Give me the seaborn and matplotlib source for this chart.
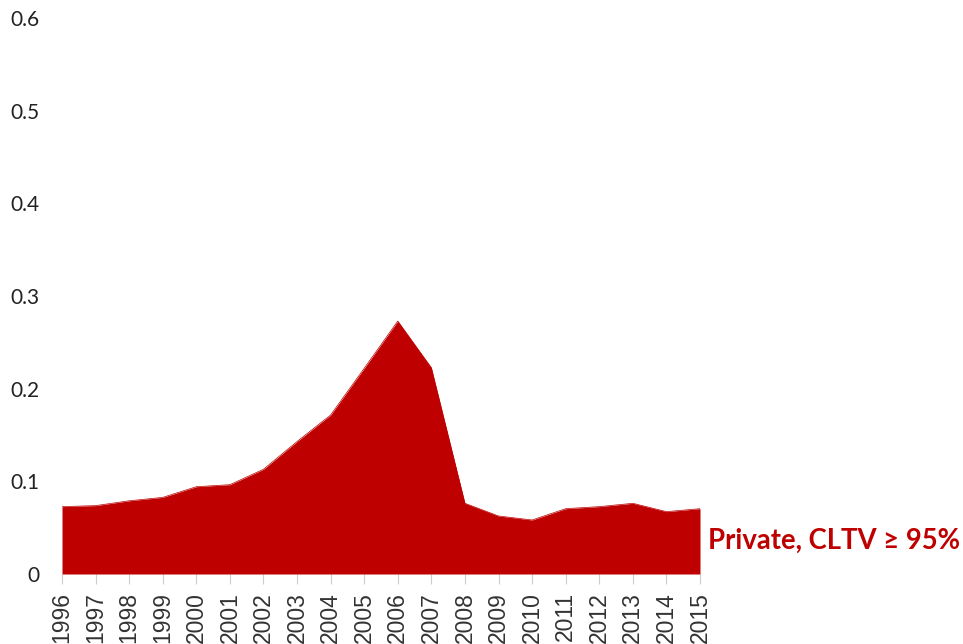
import pandas as pd
import matplotlib
matplotlib.use("Agg")
import matplotlib.pyplot as plt
import seaborn as sns

# data
years = list(range(1996, 2016))
share = [0.0727, 0.0738, 0.079, 0.0827, 0.0942, 0.0964, 0.113, 0.143, 0.1716, 0.222,
         0.273, 0.2226, 0.0763, 0.0626, 0.0583, 0.0705, 0.0727, 0.0763, 0.0673, 0.0705]
series_label = "Private, CLTV \u2265 95%"
red = "#BE0000"

df = pd.DataFrame({"year": years, "share": share})

sns.set_style("white")
plt.rcParams["font.family"] = ["Lato", "DejaVu Sans"]

fig = plt.figure(figsize=(9.63, 6.44), dpi=100)
ax = fig.add_axes([62 / 963, 1 - 574 / 644, (700 - 62) / 963, (574 - 18) / 644])

sns.lineplot(data=df, x="year", y="share", color=red, linewidth=0.5, ax=ax)
ax.fill_between(df["year"], 0, df["share"], color=red, linewidth=0)

ax.set_xlim(1996, 2015)
ax.set_ylim(0, 0.6)
ax.set_xlabel("")
ax.set_ylabel("")
sns.despine(ax=ax, left=True, bottom=True, top=True, right=True)

ax.set_xticks(years)
ax.set_xticklabels([str(y) for y in years], rotation=90, fontsize=16.5,
                   family=["Liberation Sans", "DejaVu Sans"], color="#333333")
ax.tick_params(axis="x", length=7, width=0.8, color="#cccccc", pad=6, bottom=True)

yt = [0, 0.1, 0.2, 0.3, 0.4, 0.5, 0.6]
ax.set_yticks(yt)
ax.set_yticklabels(["0" if v == 0 else f"{v:.1f}" for v in yt], fontsize=15, color="#222222")
ax.tick_params(axis="y", length=0, pad=16)

ax.text(1.012, 0.06, series_label, transform=ax.transAxes, color=red,
        fontsize=19.8, fontweight="bold", va="center", ha="left", clip_on=False)

fig.savefig("out.png", dpi=100)
